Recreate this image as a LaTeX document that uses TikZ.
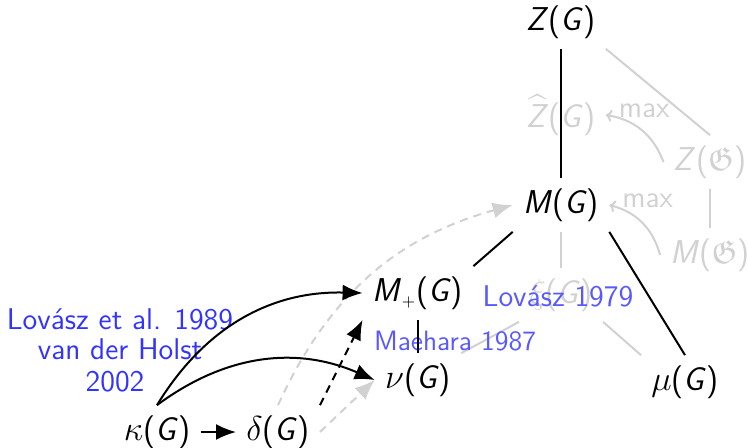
\documentclass[tikz,border=0pt]{standalone}
\usepackage{amssymb}
\usetikzlibrary{arrows.meta}
\newcommand\mysv[1]{\textsf{\textit{#1}}}
\begin{document}
\begin{tikzpicture}[x=0.5pt,y=0.5pt,
  every node/.style={font=\sffamily\fontsize{15}{18}\selectfont},
  v/.style={inner sep=5pt,font=\sffamily\fontsize{16.5}{19}\selectfont},
  gv/.style={v,text=black!18},
  blk/.style={line width=1pt,black},
  gry/.style={line width=1pt,black!18},
  tip/.style={-{Latex[length=10pt,width=8pt]}},
  dsh/.style={dash pattern=on 4pt off 3pt},
  mx/.style={gry,-{To[length=3pt,width=6pt]}},
  mxl/.style={pos=1, anchor=south west, text=black!18, inner sep=1pt, xshift=5pt, yshift=-3pt},
  ref/.style={text=blue!80, align=center, inner sep=0pt},
  ref2/.style={text=blue!65, inner sep=0pt}
]
\useasboundingbox (0,0) rectangle (748,-447);

% nodes
\node[v]  (ZG) at (561,-22)  {\mysv{Z}(\mysv{G})};
\node[gv] (Zh) at (561,-115) {$\widehat{\mbox{\mysv{Z}}}$(\mysv{G})};
\node[gv] (ZF) at (710,-162) {\mysv{Z}($\mathfrak{G}$)};
\node[v]  (MG) at (561,-205) {\mysv{M}(\mysv{G})};
\node[gv] (MF) at (710,-255) {\mysv{M}($\mathfrak{G}$)};
\node[v]  (Mp) at (418,-293) {\mysv{M}$_{\scriptscriptstyle +}$(\mysv{G})};
\node[gv] (xi) at (561,-295) {$\xi$(\mysv{G})};
\node[v]  (nu) at (418,-380) {$\nu$(\mysv{G})};
\node[v]  (mu) at (685,-382) {$\mu$(\mysv{G})};
\node[v]  (ka) at (157,-432) {$\kappa$(\mysv{G})};
\node[v]  (de) at (278,-432) {$\delta$(\mysv{G})};

% gray connectors
\draw[gry] (ZG.south east) -- (ZF.north);
\draw[gry] (ZF) -- (MF);
\draw[gry] (MG) -- (xi);
\draw[gry] (xi.south west) -- (nu.north east);
\draw[gry] (xi.south east) -- (mu.north west);
\draw[mx] (ZF.west) to[bend right=30] node[mxl] (l1) {max} (Zh.east);
\draw[mx] (MF.west) to[bend right=30] node[mxl] (l2) {max} (MG.east);
\draw[gry,dsh,tip] (de.north) to[bend left=25] (MG.west);
\draw[gry,dsh,tip] (de.east) -- (nu.west);

% reference labels
\node[ref] (r1) at (120,-334) {Lov\'asz et al. 1989\\[-3pt]van der Holst};
\node[ref] (r2) at (115,-382) {2002};
\node[ref2] (r3) at (558,-296) {Lov\'asz 1979};
\node[ref2,font=\sffamily\fontsize{14}{17}\selectfont] (r4) at (455,-341) {Maehara 1987};

% black connectors
\draw[blk] (ZG) -- (MG);
\draw[blk] (MG.south west) -- (Mp.north east);
\draw[blk] (MG.south east) -- (mu.north);
\draw[blk] (Mp) -- (nu);
\draw[blk,tip] (ka.north) to[bend left=30] (Mp.west);
\draw[blk,tip] (ka.north) to[bend left=30] (nu.west);
\draw[blk,tip] (ka) -- (de);
\draw[blk,dsh,tip] (de.north east) -- (Mp.south west);
\end{tikzpicture}
\end{document}
